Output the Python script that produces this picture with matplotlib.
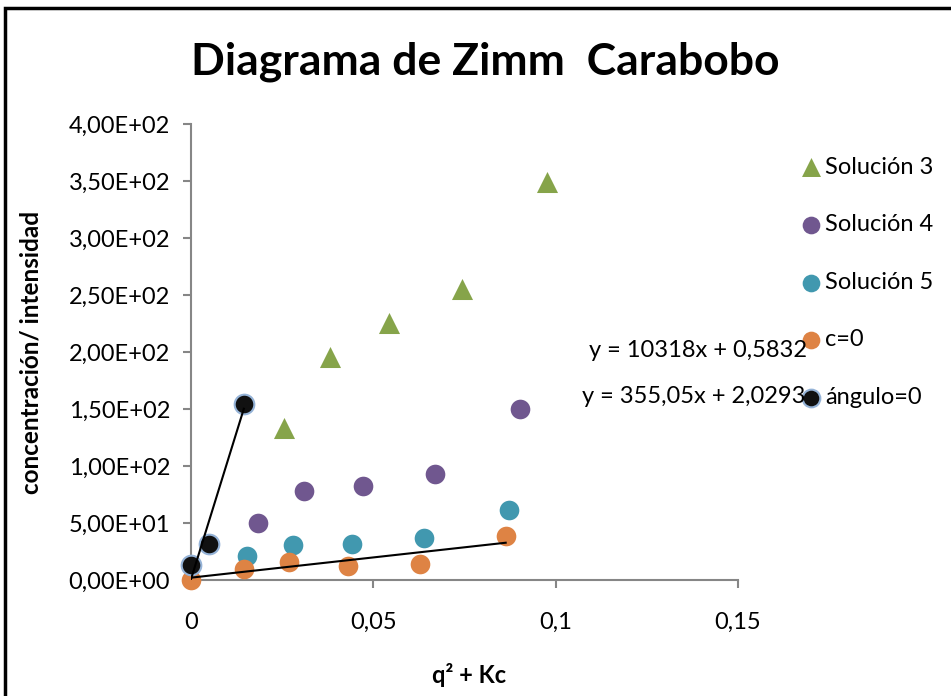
import numpy as np
import matplotlib.pyplot as plt
from matplotlib.ticker import FuncFormatter, MultipleLocator
from matplotlib.patches import Rectangle

plt.rcParams['font.family'] = ['Lato', 'DejaVu Sans']

# Zimm data: q^2 + Kc against concentration / intensity
sol3_x = [0.0256, 0.0382, 0.0544, 0.0742, 0.0975]
sol3_y = [133.0, 195.8, 225.2, 255.5, 349.3]

sol4_x = [0.0183, 0.0309, 0.0471, 0.0668, 0.0902]
sol4_y = [49.7, 78.3, 82.7, 92.7, 150.0]

sol5_x = [0.0154, 0.0279, 0.0441, 0.0640, 0.0873]
sol5_y = [21.3, 30.4, 31.3, 37.1, 61.4]

c0_x = [0.0, 0.0145, 0.0269, 0.0431, 0.0629, 0.0863]
c0_y = [0.0, 9.6, 16.1, 12.3, 14.3, 38.9]

ang0_x = [0.0, 0.0050, 0.0145]
ang0_y = [13.2, 31.3, 154.1]

# linear fits as reported on the chart
fit_c0 = (355.05, 2.0293)
fit_ang0 = (10318, 0.5832)
fit_c0_label = 'y = 355,05x + 2,0293'
fit_ang0_label = 'y = 10318x + 0,5832'

fig = plt.figure(figsize=(9.51, 6.96), dpi=100)
ax = fig.add_axes([0.2008, 0.1667, 0.5752, 0.6552])

ms = 200
ax.scatter(sol3_x, sol3_y, s=230, marker='^', color='#86A44A', linewidths=0,
           label='Solución 3', zorder=3, clip_on=False)
ax.scatter(sol4_x, sol4_y, s=ms, marker='o', color='#70578F', linewidths=0,
           label='Solución 4', zorder=3, clip_on=False)
ax.scatter(sol5_x, sol5_y, s=ms, marker='o', color='#4198AF', linewidths=0,
           label='Solución 5', zorder=3, clip_on=False)
ax.scatter(c0_x, c0_y, s=ms, marker='o', color='#DE8344', linewidths=0,
           label='c=0', zorder=3, clip_on=False)
ax.scatter(ang0_x, ang0_y, s=ms, marker='o', color='#111111',
           edgecolors='#95B3D7', linewidths=1.5,
           label='ángulo=0', zorder=3, clip_on=False)

# trend lines over the data range of each extrapolation
xs = np.array([min(c0_x), max(c0_x)])
ax.plot(xs, fit_c0[0] * xs + fit_c0[1], color='black', lw=1.5, zorder=4)
xs = np.array([min(ang0_x), max(ang0_x)])
ax.plot(xs, fit_ang0[0] * xs + fit_ang0[1], color='black', lw=1.5, zorder=4)

ax.set_xlim(0, 0.15)
ax.set_ylim(0, 400)
ax.xaxis.set_major_locator(MultipleLocator(0.05))
ax.yaxis.set_major_locator(MultipleLocator(50))
ax.yaxis.set_major_formatter(FuncFormatter(lambda v, p: f'{v:.2E}'.replace('.', ',')))
ax.xaxis.set_major_formatter(FuncFormatter(lambda v, p: f'{v:g}'.replace('.', ',')))

for side in ['top', 'right']:
    ax.spines[side].set_visible(False)
for side in ['left', 'bottom']:
    ax.spines[side].set_color('#868686')
    ax.spines[side].set_linewidth(1.5)
ax.tick_params(axis='both', colors='#868686', width=1.5, length=6,
               labelcolor='black', labelsize=17)
ax.tick_params(axis='x', pad=17)
ax.tick_params(axis='y', pad=9)

ax.set_xlabel('q² + Kc', fontsize=17, fontweight='bold')
ax.xaxis.set_label_coords(0.508, -0.182)
ax.set_ylabel('concentración/ intensidad', fontsize=17.5, fontweight='bold')
ax.yaxis.set_label_coords(-0.272, 0.5)

fig.text(0.51, 0.911, 'Diagrama de Zimm  Carabobo', ha='center', va='center',
         fontsize=32, fontweight='bold')

leg = ax.legend(loc='upper left', bbox_to_anchor=(0.828, 0.792),
                bbox_transform=fig.transFigure, frameon=False, fontsize=17,
                labelspacing=1.55, handletextpad=0.1, handlelength=1.0,
                borderpad=0, scatterpoints=1, markerscale=0.9)

fig.text(0.849, 0.497, fit_ang0_label, ha='right', va='center', fontsize=17)
fig.text(0.847, 0.431, fit_c0_label, ha='right', va='center', fontsize=17)

# chart border
fig.patches.append(Rectangle((5 / 951, -0.05), 1.1, 1 - 8 / 696 + 0.05,
                             transform=fig.transFigure, fill=False,
                             edgecolor='black', linewidth=2.5))

fig.savefig('out.png', dpi=100)
